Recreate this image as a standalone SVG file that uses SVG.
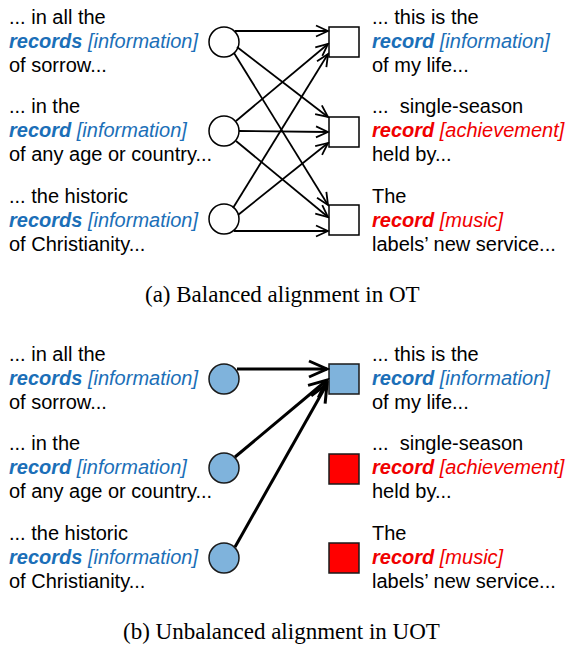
<svg xmlns="http://www.w3.org/2000/svg" width="571" height="646" viewBox="0 0 571 646">
<style>
text{font-family:"Liberation Sans",Arial,sans-serif;font-size:20px;fill:#000}
.b{fill:#1b6fb8}
.r{fill:#f00000}
.k{font-weight:bold;font-style:italic}
.i{font-style:italic}
.cap{font-family:"Liberation Serif","Times New Roman",serif;font-size:23px}
.n{fill:#fff;stroke:#000;stroke-width:1.5}
.nb{fill:#7fb3dc;stroke:#1a1a1a;stroke-width:1.5}
.nr{fill:#ff0000;stroke:#1a1a1a;stroke-width:1.5}
.e{stroke:#000;stroke-width:1.8;fill:none;marker-end:url(#a)}
.E{stroke:#000;stroke-width:3;fill:none;marker-end:url(#A)}
</style>
<defs>
<marker id="a" viewBox="-15 -8 17 16" refX="0" refY="0" markerWidth="17" markerHeight="16" markerUnits="userSpaceOnUse" orient="auto">
<path d="M-12,-5.5 L0,0 L-12,5.5" fill="none" stroke="#000" stroke-width="1.8"/>
</marker>
<marker id="A" viewBox="-22 -12 25 24" refX="0" refY="0" markerWidth="25" markerHeight="24" markerUnits="userSpaceOnUse" orient="auto">
<path d="M-18,-8 L0,0 L-18,8" fill="none" stroke="#000" stroke-width="3"/>
</marker>
</defs>

<!-- Panel (a) -->
<g id="a-src1">
<circle class="n" cx="224" cy="42" r="15"/>
<text x="9" y="24">... in all the</text>
<text x="9" y="48"><tspan class="b k">records</tspan><tspan class="b i"> [information]</tspan></text>
<text x="9" y="72">of sorrow...</text>
</g>
<g id="a-src2">
<circle class="n" cx="224" cy="131" r="15"/>
<text x="9" y="113">... in the</text>
<text x="9" y="137"><tspan class="b k">record</tspan><tspan class="b i"> [information]</tspan></text>
<text x="9" y="161">of any age or country...</text>
</g>
<g id="a-src3">
<circle class="n" cx="224" cy="219" r="15"/>
<text x="9" y="203">... the historic</text>
<text x="9" y="227"><tspan class="b k">records</tspan><tspan class="b i"> [information]</tspan></text>
<text x="9" y="251">of Christianity...</text>
</g>
<g id="a-tgt1">
<rect class="n" x="329" y="27" width="30" height="30"/>
<text x="372" y="24">... this is the</text>
<text x="372" y="48"><tspan class="b k">record</tspan><tspan class="b i"> [information]</tspan></text>
<text x="372" y="72">of my life...</text>
</g>
<g id="a-tgt2">
<rect class="n" x="329" y="117" width="30" height="30"/>
<text x="372" y="113" xml:space="preserve">...  single-season</text>
<text x="372" y="137"><tspan class="r k">record</tspan><tspan class="r i"> [achievement]</tspan></text>
<text x="372" y="161">held by...</text>
</g>
<g id="a-tgt3">
<rect class="n" x="329" y="205" width="30" height="30"/>
<text x="372" y="203">The</text>
<text x="372" y="227"><tspan class="r k">record</tspan><tspan class="r i"> [music]</tspan></text>
<text x="372" y="251">labels’ new service...</text>
</g>
<g id="a-edges">
<line class="e" x1="235" y1="31" x2="328" y2="31"/>
<line class="e" x1="237" y1="47" x2="328" y2="117"/>
<line class="e" x1="234" y1="53" x2="328" y2="205"/>
<line class="e" x1="236" y1="121" x2="328" y2="44"/>
<line class="e" x1="239" y1="131" x2="328" y2="132"/>
<line class="e" x1="236" y1="141" x2="328" y2="217"/>
<line class="e" x1="233" y1="208" x2="328" y2="54"/>
<line class="e" x1="238" y1="215" x2="328" y2="143"/>
<line class="e" x1="234" y1="231" x2="328" y2="231"/>
</g>
<text id="cap-a" class="cap" x="145" y="302">(a) Balanced alignment in OT</text>

<!-- Panel (b) -->
<g id="b-src1">
<circle class="nb" cx="224" cy="379" r="15"/>
<text x="9" y="361">... in all the</text>
<text x="9" y="385"><tspan class="b k">records</tspan><tspan class="b i"> [information]</tspan></text>
<text x="9" y="409">of sorrow...</text>
</g>
<g id="b-src2">
<circle class="nb" cx="224" cy="468" r="15"/>
<text x="9" y="450">... in the</text>
<text x="9" y="474"><tspan class="b k">record</tspan><tspan class="b i"> [information]</tspan></text>
<text x="9" y="498">of any age or country...</text>
</g>
<g id="b-src3">
<circle class="nb" cx="224" cy="558" r="15"/>
<text x="9" y="540">... the historic</text>
<text x="9" y="564"><tspan class="b k">records</tspan><tspan class="b i"> [information]</tspan></text>
<text x="9" y="588">of Christianity...</text>
</g>
<g id="b-tgt1">
<rect class="nb" x="329" y="364" width="30" height="30"/>
<text x="372" y="361">... this is the</text>
<text x="372" y="385"><tspan class="b k">record</tspan><tspan class="b i"> [information]</tspan></text>
<text x="372" y="409">of my life...</text>
</g>
<g id="b-tgt2">
<rect class="nr" x="329" y="454" width="30" height="30"/>
<text x="372" y="450" xml:space="preserve">...  single-season</text>
<text x="372" y="474"><tspan class="r k">record</tspan><tspan class="r i"> [achievement]</tspan></text>
<text x="372" y="498">held by...</text>
</g>
<g id="b-tgt3">
<rect class="nr" x="329" y="543" width="30" height="30"/>
<text x="372" y="540">The</text>
<text x="372" y="564"><tspan class="r k">record</tspan><tspan class="r i"> [music]</tspan></text>
<text x="372" y="588">labels’ new service...</text>
</g>
<g id="b-edges">
<line class="E" x1="237" y1="369" x2="327" y2="369"/>
<line class="E" x1="235" y1="457" x2="327" y2="380"/>
<line class="E" x1="235" y1="547" x2="327" y2="384"/>
</g>
<text id="cap-b" class="cap" x="123" y="639">(b) Unbalanced alignment in UOT</text>
</svg>
